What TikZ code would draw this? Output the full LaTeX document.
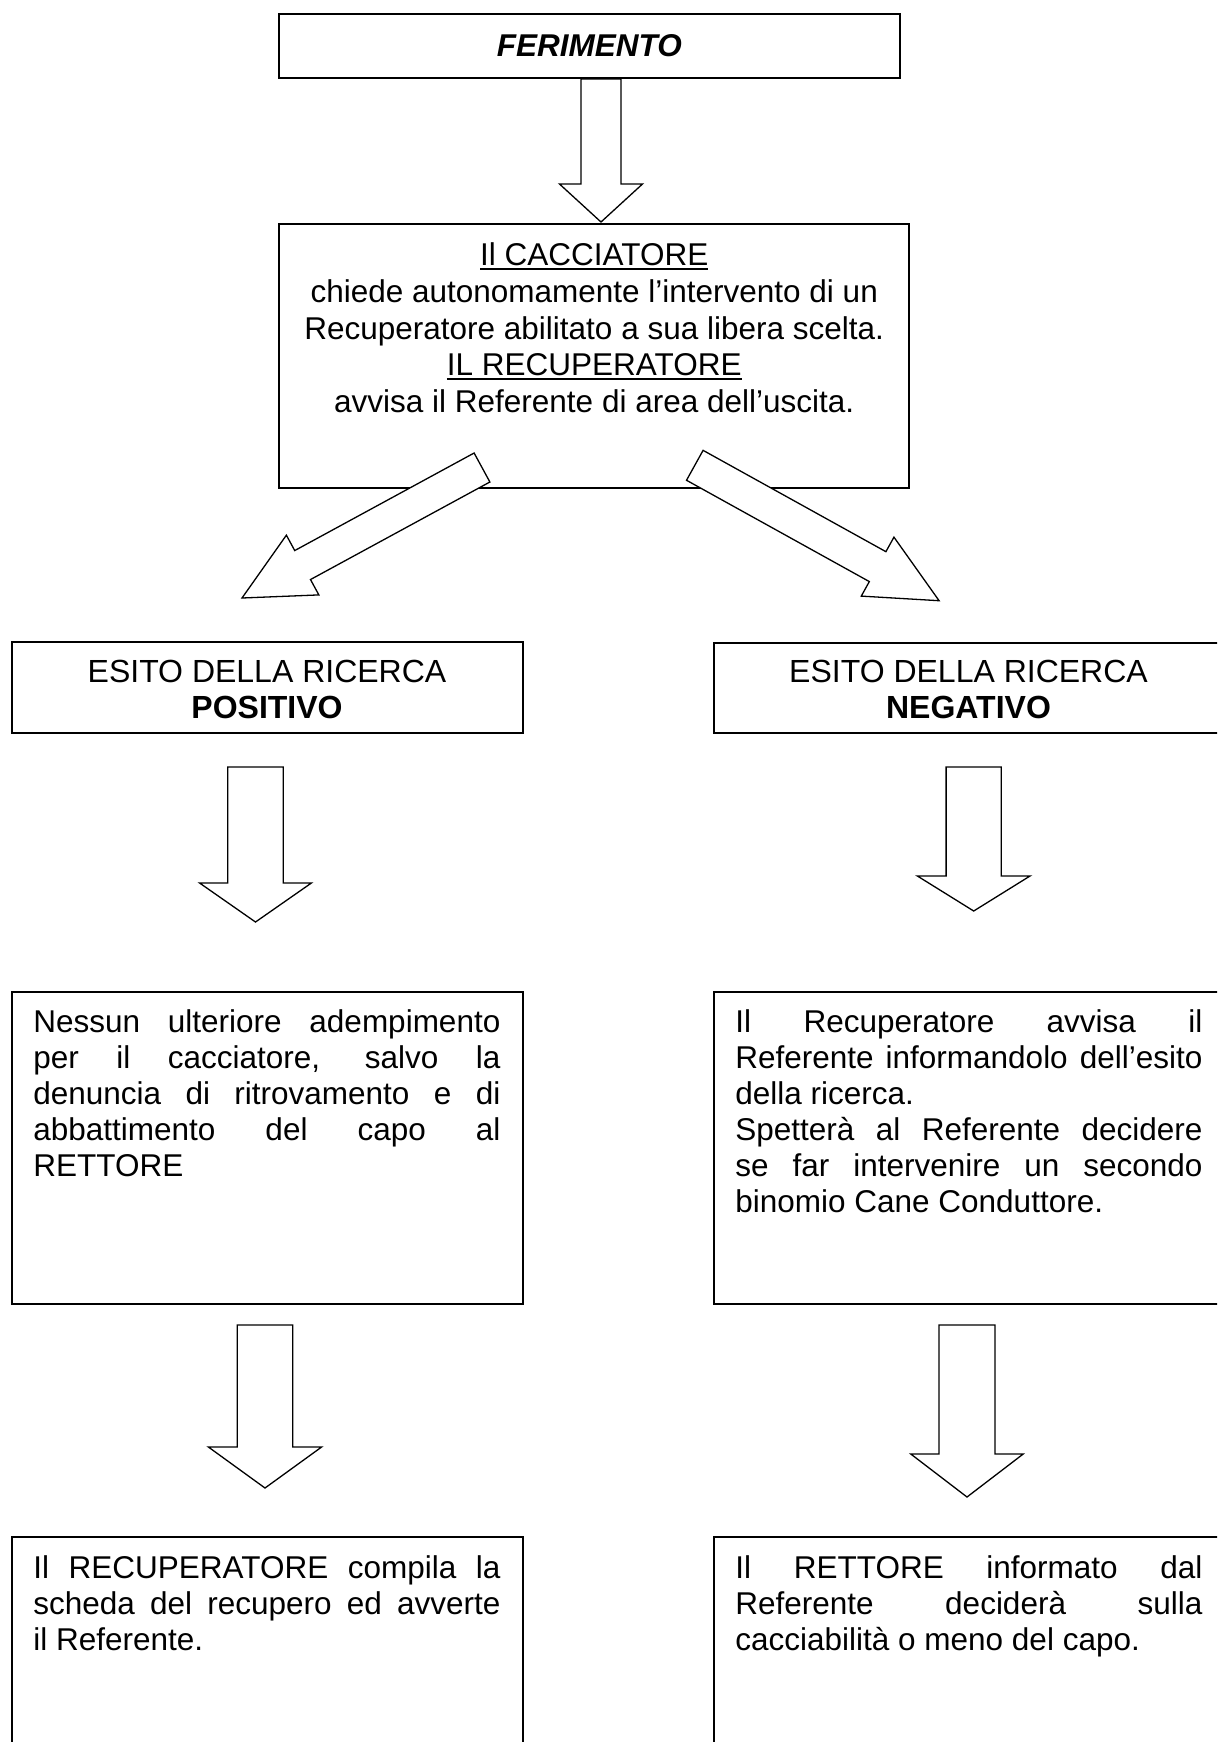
\documentclass[tikz,border=0pt]{standalone}
\usepackage{fontspec}
\setmainfont{Liberation Sans}
\usetikzlibrary{positioning,calc}

% thicker underline, as in the original
\newcommand{\sottolinea}[1]{\leavevmode\vtop{\hbox{#1}\kern1.1pt\hrule height 0.8pt}}

% block arrow: #1 start, #2 tip, #3 half shaft, #4 half head, #5 head length
\newcommand{\freccia}[5]{%
  \coordinate (fb) at ($(#2)!#5!(#1)$);
  \draw[line width=0.65pt, fill=white] ($(#1)!#3!90:(#2)$) -- ($(fb)!#3!90:(#2)$)
    -- ($(fb)!#4!90:(#2)$) -- (#2) -- ($(fb)!#4!-90:(#2)$)
    -- ($(fb)!#3!-90:(#2)$) -- ($(#1)!#3!-90:(#2)$) -- cycle;
}

\begin{document}
\begin{tikzpicture}[x=0.5pt, y=-0.5pt,
    box/.style={draw, line width=1pt, inner sep=0pt},
    esito/.style={inner sep=0pt, anchor=north, align=center, font=\fontsize{16}{18}\selectfont},
    bodytext/.style={inner sep=0pt, anchor=north west, text width=233.5pt, align=justify,
      font=\fontsize{15.75}{18}\selectfont}]
  \useasboundingbox (0,0) rectangle (1217,1742);
  \clip (0,0) rectangle (1217,1742);

  % Top boxes
  \node[box, minimum width=310.3pt, minimum height=32pt,
    font=\bfseries\itshape\fontsize{15.75}{18}\selectfont] (ferimento) at (589.3,46) {FERIMENTO};
  \node[box, minimum width=315.2pt, minimum height=132pt, anchor=north] (cacciatore) at (594.2,223) {};
  \node[inner sep=0pt, anchor=north, align=center, font=\fontsize{15.75}{18.35}\selectfont]
    (cacciatoretxt) at (594.2,242.4) {\sottolinea{Il CACCIATORE}\\
    chiede autonomamente l’intervento di un\\
    Recuperatore abilitato a sua libera scelta.\\
    \sottolinea{IL RECUPERATORE}\\
    avvisa il Referente di area dell’uscita.};

  % Esito della ricerca
  \node[box, minimum width=255.3pt, minimum height=45.5pt, anchor=north west] (positivo) at (11.4,641) {};
  \node[esito] (positivotxt) at (267,660) {ESITO DELLA RICERCA\\ \textbf{POSITIVO}};
  \node[box, minimum width=270pt, minimum height=45pt, anchor=north west] (negativo) at (713,642) {};
  \node[esito] (negativotxt) at (968.5,660) {ESITO DELLA RICERCA\\ \textbf{NEGATIVO}};

  % Detail boxes
  \node[box, minimum width=255.3pt, minimum height=156pt, anchor=north west] (posdet) at (11.4,991) {};
  \node[bodytext] (posdettxt) at (33,1009.4)
    {Nessun ulteriore adempimento \linebreak per il cacciatore, salvo la \linebreak
    denuncia di ritrovamento e di \linebreak abbattimento del capo al \linebreak RETTORE};
  \node[box, minimum width=270pt, minimum height=156pt, anchor=north west] (negdet) at (713,991) {};
  \node[bodytext] (negdettxt) at (735,1009.4)
    {Il Recuperatore avvisa il \linebreak Referente informandolo dell’esito \linebreak
    della ricerca.\\ Spetterà al Referente decidere \linebreak se far intervenire un secondo
    \linebreak binomio Cane Conduttore.};

  % Final boxes
  \node[box, minimum width=255.3pt, minimum height=112pt, anchor=north west] (posfin) at (11.4,1536) {};
  \node[bodytext] (posfintxt) at (33,1555.4)
    {Il RECUPERATORE compila la \linebreak scheda del recupero ed avverte \linebreak il Referente.};
  \node[box, minimum width=270pt, minimum height=112pt, anchor=north west] (negfin) at (713,1536) {};
  \node[bodytext] (negfintxt) at (735,1555.4)
    {Il RETTORE informato dal \linebreak Referente deciderà sulla \linebreak cacciabilità o meno del capo.};

  % Arrows
  \coordinate (f1a) at ([xshift=5.85pt]ferimento.south);
  \coordinate (f1b) at ([xshift=3.4pt, yshift=0.5pt]cacciatore.north);
  \coordinate (f2a) at (482,467.5);
  \coordinate (f2b) at (242,598);
  \coordinate (f3a) at (694.8,465.3);
  \coordinate (f3b) at (939.1,600.7);
  \coordinate (f4a) at (255.5,767);
  \coordinate (f4b) at (255.5,922);
  \coordinate (f5a) at (973.7,767);
  \coordinate (f5b) at (973.7,911);
  \coordinate (f6a) at (265,1325);
  \coordinate (f6b) at (265,1488);
  \coordinate (f7a) at (967,1325);
  \coordinate (f7b) at (967,1497);
  \freccia{f1a}{f1b}{10pt}{20.75pt}{19pt}
  \freccia{f2a}{f2b}{8.25pt}{17pt}{34.5pt}
  \freccia{f3a}{f3b}{8.55pt}{16.85pt}{35.15pt}
  \freccia{f4a}{f4b}{13.85pt}{27.95pt}{19.5pt}
  \freccia{f5a}{f5b}{13.8pt}{28.15pt}{17.5pt}
  \freccia{f6a}{f6b}{13.85pt}{28.3pt}{20.5pt}
  \freccia{f7a}{f7b}{14pt}{28.1pt}{21.5pt}
\end{tikzpicture}
\end{document}
